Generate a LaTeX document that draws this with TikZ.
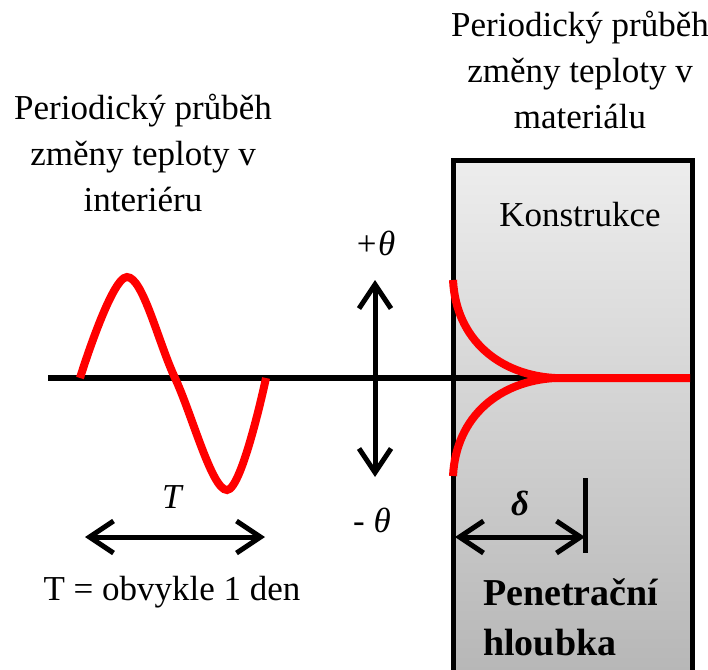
\documentclass[tikz,border=0pt]{standalone}
\usepackage{fontspec}
\setmainfont{Liberation Serif}
\usetikzlibrary{arrows.meta}
\begin{document}
\begin{tikzpicture}[x=1pt,y=-1pt,
  redline/.style={line width=8pt,red},
  dimarrow/.style={line width=5pt,{Straight Barb[length=24pt,width=32pt]}-{Straight Barb[length=24pt,width=32pt]}},
  lbl/.style={font=\fontsize{35}{46}\selectfont,inner sep=0pt}]
\useasboundingbox (0,0) rectangle (708,669);
\begin{scope}
\clip (0,0) rectangle (708,669);
\shade[top color=black!7,bottom color=black!29] (453,160) rectangle (692,690);
\draw[line width=5pt] (453,690) -- (453,160) -- (692,160) -- (692,690);
\end{scope}
\coordinate (axL) at (48,378);
\coordinate (axR) at (552,378);
\draw[line width=6pt] (axL) -- (axR);
\draw[redline] plot[smooth,tension=0.6] coordinates {(80,378) (127,277) (175,378) (227,490) (266,378)};
\draw[redline] (453,280) .. controls (456,340) and (500,375) .. (555,378) -- (690,378);
\draw[redline] (453,476) .. controls (456,416) and (500,381) .. (555,378);
\node[lbl,align=center] (intTitle) at (143,153) {Periodický průběh\\změny teploty v\\interiéru};
\node[lbl,align=center] (matTitle) at (580,70) {Periodický průběh\\změny teploty v\\materiálu};
\node[lbl] (konstr) at (580,215) {Konstrukce};
\node[lbl] (plusTh) at (375,243) {\textit{+θ}};
\node[lbl] (minusTh) at (372,520) {\textit{- θ}};
\coordinate (thUp) at (375,280);
\coordinate (thDn) at (375,477);
\draw[dimarrow] (thUp) -- (thDn);
\node[lbl] (perLbl) at (173,497) {\textit{T}};
\coordinate (perL) at (85,537);
\coordinate (perR) at (265,537);
\draw[dimarrow] (perL) -- (perR);
\node[lbl,anchor=base] (perText) at (172,600) {T = obvykle 1 den};
\node[lbl] (deltaLbl) at (520,503) {\textbf{\textit{δ}}};
\coordinate (penL) at (455,537);
\coordinate (penR) at (585,537);
\draw[dimarrow] (penL) -- (penR);
\draw[line width=5pt] (585,478) -- (585,553);
\node[lbl,font=\bfseries\fontsize{38}{50}\selectfont,anchor=base west] (penText) at (483,605) {Penetrační};
\node[lbl,font=\bfseries\fontsize{38}{50}\selectfont,anchor=base west] (hlText) at (483,655) {hloubka};
\end{tikzpicture}
\end{document}
